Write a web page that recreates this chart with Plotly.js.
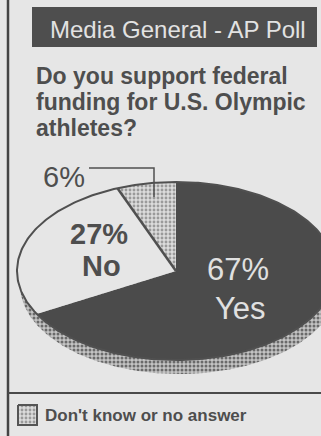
<!DOCTYPE html>
<html>
<head>
<meta charset="utf-8">
<script src="https://cdn.plot.ly/plotly-3.0.1.min.js"></script>
<style>
html,body{margin:0;padding:0;background:#e6e6e6;}
#chart{width:321px;height:436px;}
</style>
</head>
<body>
<div id="chart"></div>
<script>
// ---- data ----
const categories = ["Yes", "No", "Don't know or no answer"];
const shares = [67, 27, 6];
const headerText = "Media General - AP Poll";
const questionLines = ["Do you support federal", "funding for U.S. Olympic", "athletes?"];

// ---- geometry / style ----
const W = 321, H = 436;
const cx = 176, cy = 271, ra = 159, rb = 89;
const shadowDx = 3, shadowDy = 14;
const bg = '#e6e6e6', dark = '#4b4b4b', ink = '#4e4e4e';

function ellipsePt(deg, dx, dy) {
  const t = deg * Math.PI / 180;
  return [cx + dx + ra * Math.sin(t), cy + dy - rb * Math.cos(t)];
}
function arc(a0, a1, dx, dy) {
  const xs = [], ys = [];
  const n = Math.max(2, Math.ceil(Math.abs(a1 - a0)));
  for (let i = 0; i <= n; i++) {
    const p = ellipsePt(a0 + (a1 - a0) * i / n, dx, dy);
    xs.push(p[0]); ys.push(p[1]);
  }
  return [xs, ys];
}

const traces = [];
// shadow
{
  const [xs, ys] = arc(0, 360, shadowDx, shadowDy);
  traces.push({type:'scatter', mode:'lines', x:xs, y:ys, fill:'toself',
    fillcolor:'#a9a9a9', line:{width:0, color:'rgba(0,0,0,0)'},
    fillpattern:{shape:'.', bgcolor:'#c4c4c4', fgcolor:'#6a6a6a', size:4, solidity:0.45},
    hoverinfo:'skip', showlegend:false});
}
// slices, clockwise from 12 o'clock
const sliceFill = [dark, bg, '#cacaca'];
const dkPattern = {shape:'.', bgcolor:'#dcdcdc', fgcolor:'#9a9a9a', size:4, solidity:0.4};
const total = shares.reduce((s, v) => s + v, 0);
let start = 0;
const bounds = [];
shares.forEach((v, i) => {
  const a0 = start, a1 = start + v / total * 360;
  const [xs, ys] = arc(a0, a1, 0, 0);
  const t = {type:'scatter', mode:'lines', name:categories[i],
    x:[cx].concat(xs, [cx]), y:[cy].concat(ys, [cy]), fill:'toself',
    fillcolor:sliceFill[i], line:{width:0, color:'rgba(0,0,0,0)'},
    hoverinfo:'skip', showlegend:false};
  if (i === 2) t.fillpattern = dkPattern;
  traces.push(t);
  bounds.push(a1);
  start = a1;
});
// outline of the top face
{
  const [xs, ys] = arc(0, 360, 0, 0);
  traces.push({type:'scatter', mode:'lines', x:xs, y:ys,
    line:{width:2, color:'#505050'}, hoverinfo:'skip', showlegend:false});
}
// No / Don't-know boundary line
{
  const p = ellipsePt(bounds[1], 0, 0);
  traces.push({type:'scatter', mode:'lines', x:[cx, p[0]], y:[cy, p[1]],
    line:{width:2.5, color:'#505050'}, hoverinfo:'skip', showlegend:false});
}
// legend swatch
traces.push({type:'scatter', mode:'lines', x:[18,37,37,18,18], y:[405,405,425,425,405],
  fill:'toself', fillcolor:'#cacaca', fillpattern:dkPattern,
  line:{width:2, color:'#555'}, hoverinfo:'skip', showlegend:false});

const F = 'Liberation Sans, Arial, sans-serif';
const annotations = [];
annotations.push({x:48, y:29, xref:'x', yref:'y', xanchor:'left', yanchor:'middle', showarrow:false,
  text:headerText, font:{family:F, size:24, color:'#e2e2e2'}});
questionLines.forEach((ln, i) => {
  annotations.push({x:34, y:76 + 26*i, xref:'x', yref:'y', xanchor:'left', yanchor:'middle', showarrow:false,
    text:'<b>'+ln+'</b>', font:{family:F, size:23, color:ink}});
});
annotations.push({x:238, y:269, xref:'x', yref:'y', showarrow:false, text:shares[0]+'%',
  font:{family:F, size:31, color:'#e0e0e0'}});
annotations.push({x:240, y:308, xref:'x', yref:'y', showarrow:false, text:categories[0],
  font:{family:F, size:31, color:'#e0e0e0'}});
annotations.push({x:99, y:234, xref:'x', yref:'y', showarrow:false, text:'<b>'+shares[1]+'%</b>',
  font:{family:F, size:29, color:ink}});
annotations.push({x:101, y:266, xref:'x', yref:'y', showarrow:false, text:'<b>'+categories[1]+'</b>',
  font:{family:F, size:29, color:ink}});
annotations.push({x:64, y:177, xref:'x', yref:'y', showarrow:false, text:shares[2]+'%',
  font:{family:F, size:29, color:ink}});
annotations.push({x:43, y:415, xref:'x', yref:'y', xanchor:'left', yanchor:'middle', showarrow:false,
  text:'<b>'+categories[2]+'</b>',
  font:{family:F, size:17, color:ink}});

const shapes = [
  {type:'rect', xref:'x', yref:'y', x0:32, x1:317, y0:7, y1:47, fillcolor:'#4e4e4e', line:{width:0}},
  {type:'line', xref:'x', yref:'y', x0:8, x1:8, y0:0, y1:H, line:{width:2.5, color:'#444'}},
  {type:'line', xref:'x', yref:'y', x0:8, x1:W, y0:393, y1:393, line:{width:2, color:'#4a4a4a'}},
  {type:'path', xref:'x', yref:'y', path:'M89,168 L154,168 L154,197', line:{width:1.5, color:'#505050'}}
];

const layout = {
  width:W, height:H, margin:{l:0,r:0,t:0,b:0},
  paper_bgcolor:bg, plot_bgcolor:bg,
  xaxis:{range:[0,W], visible:false, fixedrange:true},
  yaxis:{range:[H,0], visible:false, fixedrange:true},
  annotations:annotations, shapes:shapes, showlegend:false
};
Plotly.newPlot('chart', traces, layout, {staticPlot:true, displayModeBar:false});
</script>
</body>
</html>
